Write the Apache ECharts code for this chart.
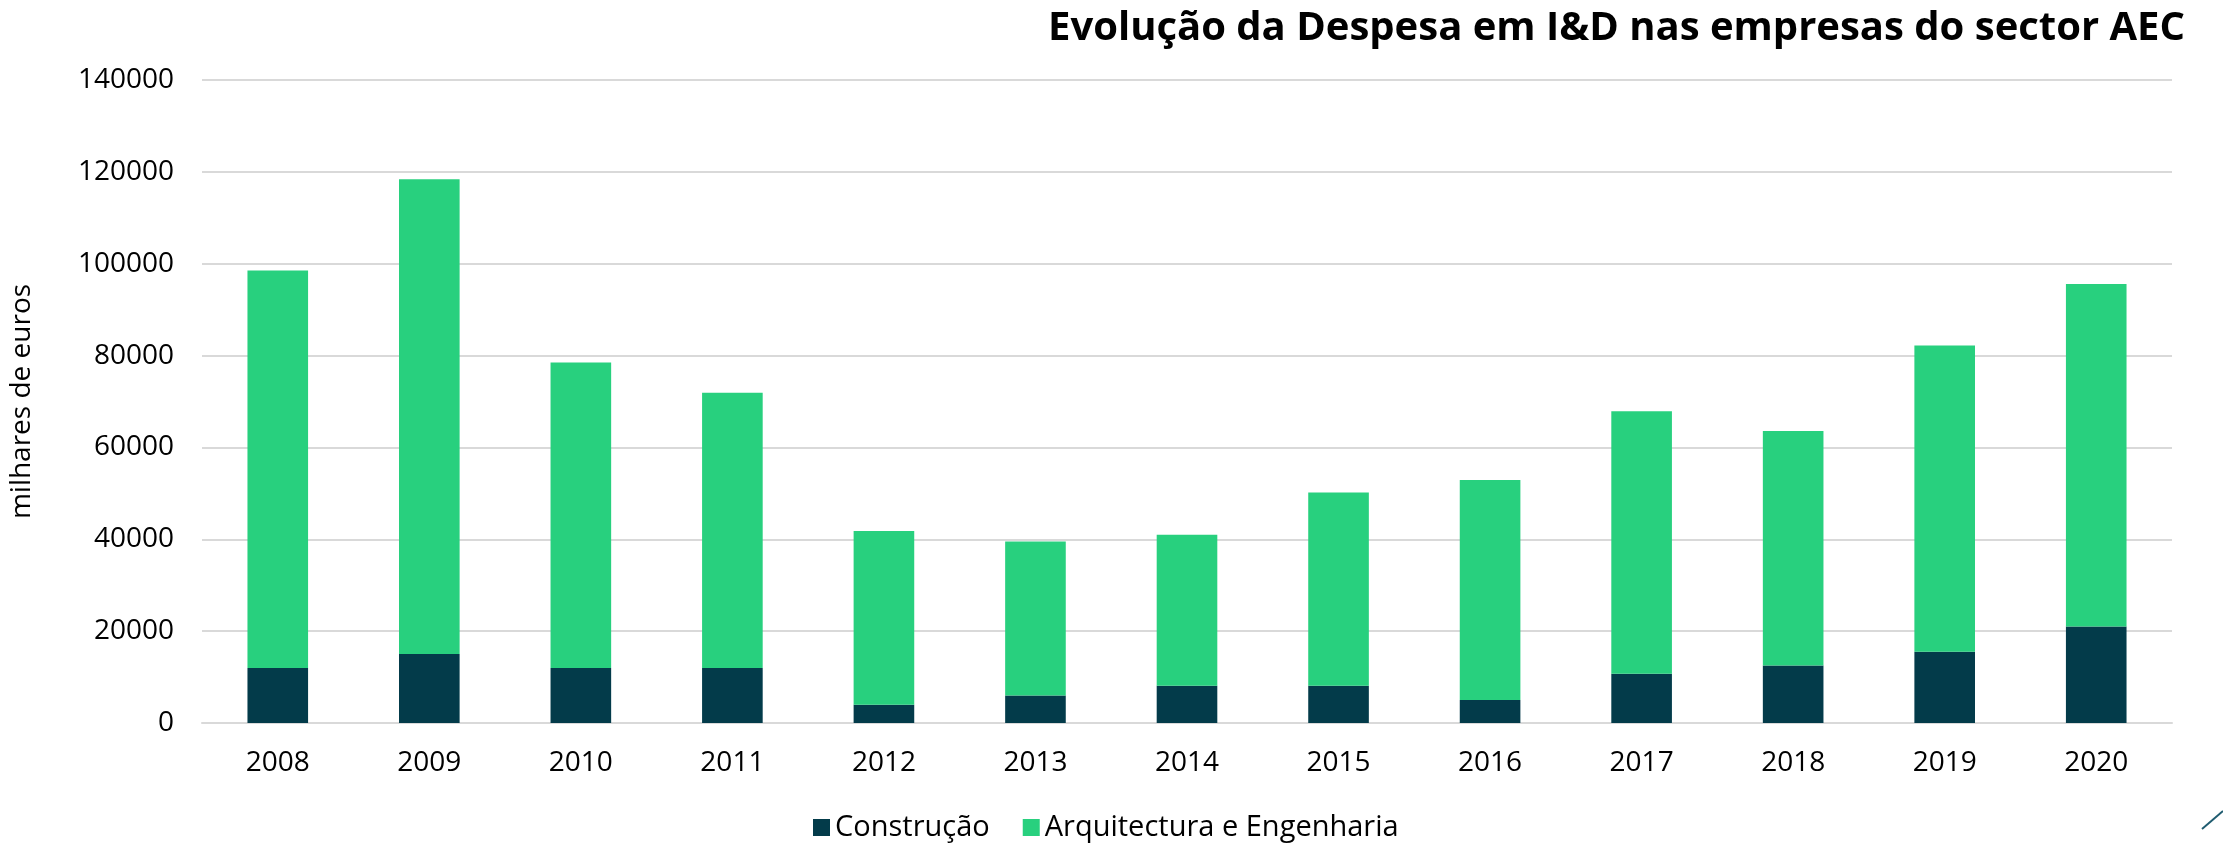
<!DOCTYPE html>
<html>
<head>
<meta charset="utf-8">
<title>Evolução da Despesa em I&amp;D</title>
<script src="https://cdn.jsdelivr.net/npm/echarts@6/dist/echarts.min.js"></script>
<style>
  html, body { margin: 0; padding: 0; background: #ffffff; }
  #chart { width: 2223px; height: 843px; }
</style>
</head>
<body>
<div id="chart"></div>
<script>
// Chart data (milhares de euros)
const years = ['2008', '2009', '2010', '2011', '2012', '2013', '2014',
               '2015', '2016', '2017', '2018', '2019', '2020'];
const construcao = [12000, 15000, 12000, 12000, 4000, 6000, 8100,
                    8100, 5000, 10700, 12500, 15500, 21000];
const arquitectura = [86500, 103400, 66500, 59900, 37800, 33500, 32900,
                      42100, 47900, 57200, 51100, 66700, 74600];
const seriesNames = ['Construção', 'Arquitectura e Engenharia'];

const FONT = '"Open Sans", "Noto Sans", sans-serif';
const DARK = '#033B4A';
const GREEN = '#28D07E';

document.addEventListener('DOMContentLoaded', function() {
    const chart = echarts.init(document.getElementById('chart'), null, { renderer: 'canvas' });

    const option = {
        backgroundColor: '#ffffff',
        animation: false,
        textStyle: { fontFamily: FONT },
        title: {
            text: 'Evolução da Despesa em I&D nas empresas do sector AEC',
            right: 33,
            top: 4,
            textStyle: {
                fontFamily: FONT,
                fontSize: 40,
                fontWeight: 'bold',
                color: '#000000'
            }
        },
        legend: {
            data: seriesNames,
            left: 808,
            top: 808,
            itemWidth: 17,
            itemHeight: 17,
            itemGap: 33,
            icon: 'rect',
            textStyle: { fontFamily: FONT, fontSize: 29, color: '#000000' }
        },
        grid: {
            left: 201,
            right: 51,
            top: 80,
            bottom: 120,
            containLabel: false
        },
        xAxis: {
            type: 'category',
            data: years,
            axisLine: { show: true, lineStyle: { color: '#D9D9D9', width: 2 } },
            axisTick: { show: false },
            axisLabel: { fontFamily: FONT, fontSize: 28, color: '#000000', margin: 26 }
        },
        yAxis: {
            type: 'value',
            min: 0,
            max: 140000,
            interval: 20000,
            name: 'milhares de euros',
            nameLocation: 'middle',
            nameGap: 166,
            nameRotate: 90,
            nameTextStyle: { fontFamily: FONT, fontSize: 28, color: '#000000' },
            axisLine: { show: false },
            axisTick: { show: false },
            axisLabel: {
                fontFamily: FONT, fontSize: 28, color: '#000000', margin: 28,
                formatter: function(v) { return String(v); }
            },
            splitLine: { lineStyle: { color: '#D9D9D9', width: 2 } }
        },
        series: [
            {
                name: seriesNames[0],
                type: 'bar',
                stack: 'total',
                barWidth: '40%',
                itemStyle: { color: DARK },
                data: construcao
            },
            {
                name: seriesNames[1],
                type: 'bar',
                stack: 'total',
                barWidth: '40%',
                itemStyle: { color: GREEN },
                data: arquitectura
            }
        ],
        graphic: [{
            // small decorative stroke in the bottom-right corner
            type: 'line',
            shape: { x1: 2202, y1: 829, x2: 2223, y2: 811 },
            style: { stroke: '#1F5C70', lineWidth: 2 }
        }]
    };

    chart.setOption(option);
});
</script>
</body>
</html>
